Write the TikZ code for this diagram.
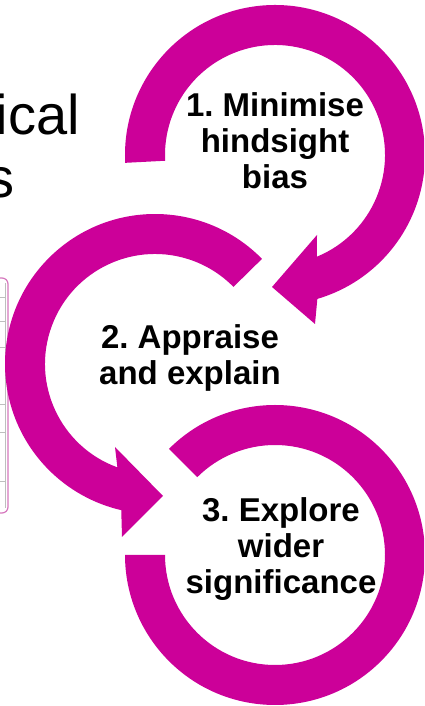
\documentclass[tikz,border=0pt]{standalone}
\usepackage{fontspec}
\setmainfont{Liberation Sans}
\frenchspacing
\definecolor{ringmag}{RGB}{204,0,153}
\definecolor{boxpink}{RGB}{214,120,190}
\definecolor{gridgray}{RGB}{190,190,190}
\begin{document}
\begin{tikzpicture}[x=1pt,y=1pt,
  ring/.style={fill=ringmag,draw=none},
  lbl/.style={font=\frenchspacing\bfseries\fontsize{33}{36}\selectfont,align=center,inner sep=0pt,text=black},
  ttl/.style={font=\fontsize{56}{63}\selectfont,inner sep=0pt,text=black}]
\useasboundingbox (0,0) rectangle (424,706);
\clip (0,0) rectangle (424,706);
\fill[white] (0,0) rectangle (424,706);

% partial title text (cropped at left edge)
\node[ttl,anchor=base east] (title1) at (80,571) {ical};
\node[ttl,anchor=base east] (title2) at (15,508) {s};

% partial box at left edge
\draw[boxpink,line width=1.2pt,fill=white,rounded corners=6pt] (-20,428) rectangle (8,193);
\draw[gridgray,line width=1.5pt] (5.5,423) -- (5.5,198);
\foreach \yy in {408,384,358,301,273,224}{
  \draw[gridgray,line width=1pt] (0,\yy) -- (5.5,\yy);
}

% centres
\coordinate (c1) at (275,551);
\coordinate (c2) at (155,342);
\coordinate (c3) at (275,151);

% circle 3 (no arrowhead)
\begin{scope}[shift={(c3)}]
  \fill[ring] (135:150) arc[start angle=135,end angle=-180,radius=150]
    -- (180:110) arc[start angle=-180,end angle=135,radius=110] -- cycle;
\end{scope}

% circle 2 with arrowhead pointing into circle 3
\begin{scope}[shift={(c2)}]
  \fill[ring] (44.5:150) arc[start angle=44.5,end angle=257,radius=150]
    -- (-33,-173) -- (8,-132) -- (-40,-83)
    -- (250:110) arc[start angle=250,end angle=44.5,radius=110] -- cycle;
\end{scope}

% circle 1 with arrowhead pointing into circle 2
\begin{scope}[shift={(c1)}]
  \fill[ring] (183:150) arc[start angle=183,end angle=-73.6,radius=150]
    -- (40,-169) -- (-3,-132) -- (42,-80)
    -- (-67.6:110) arc[start angle=-67.6,end angle=183,radius=110] -- cycle;
\end{scope}

% labels
\node[lbl] (t1) at (275,565) {1. Minimise\\hindsight\\bias};
\node[lbl] (t2) at (190,348) {2. Appraise\\and explain};
\node[lbl] (t3) at (281,157) {3. Explore\\wider\\significance};
\end{tikzpicture}
\end{document}
